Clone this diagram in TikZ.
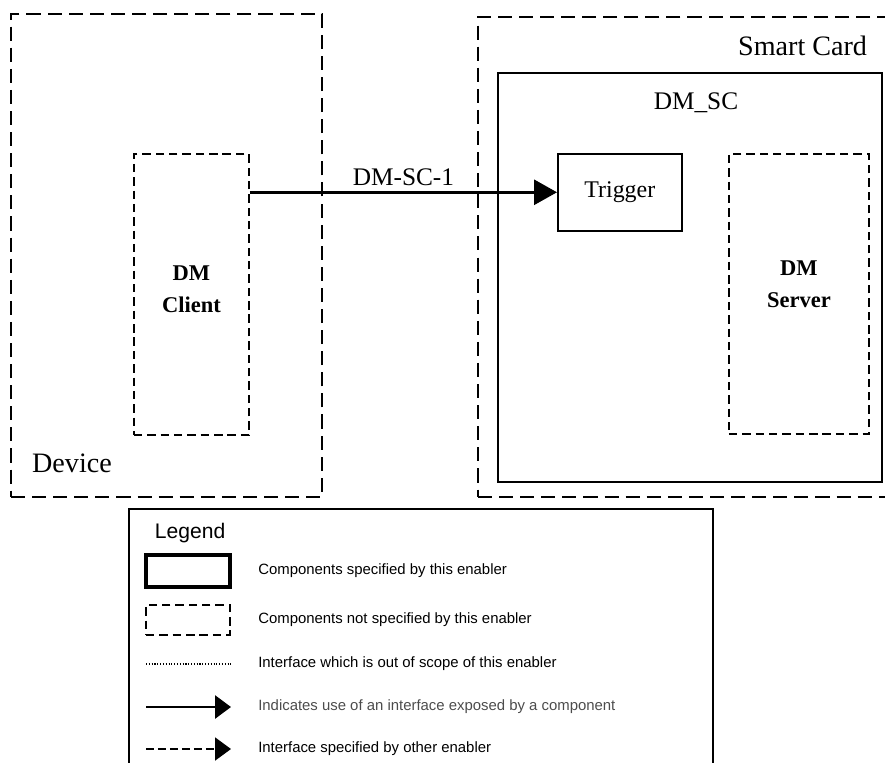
\documentclass[tikz,border=0pt]{standalone}
\usepackage{fontspec}
\setmainfont{Liberation Serif}
\setsansfont{Liberation Sans}
\usetikzlibrary{arrows.meta}

\begin{document}
\begin{tikzpicture}[
			x=0.025cm, y=-0.025cm,
			bigdash/.style={draw, line width=1.4pt, dash pattern=on 10pt off 5pt, inner sep=0pt, anchor=north west},
			smalldash/.style={draw, line width=1.3pt, dash pattern=on 6pt off 3.5pt, inner sep=0pt, anchor=north west, align=center, font=\fontsize{16}{23}\selectfont\bfseries},
			solidbox/.style={draw, line width=1.1pt, inner sep=0pt, anchor=north west},
			title/.style={font=\fontsize{20}{24}\selectfont},
			iface/.style={-{Triangle[length=0.575cm, width=0.625cm]}, line width=2.1pt},
			legtext/.style={anchor=west, inner sep=0pt, font=\sffamily\fontsize{10.6}{12}\selectfont},
			legarrow/.style={-{Triangle[length=0.4cm, width=0.575cm]}}
		]
		\useasboundingbox (0,0) rectangle (885,762);

		\node[bigdash, minimum width=7.775cm, minimum height=12.075cm] (device) at (10,13) {};
		\node[title] (devicelabel) at (72,463) {Device};
		\node[smalldash, minimum width=2.875cm, minimum height=7.025cm, text depth=0.25cm] (client) at (133,153) {DM\\Client};

		\node[bigdash, minimum width=10.5cm, minimum height=12cm] (card) at (477,16) {};
		\node[title, anchor=east] (cardlabel) at (872,46) {Smart Card};
		\node[solidbox, minimum width=9.6cm, minimum height=10.225cm] (dmsc) at (497,72) {};
		\node[font=\fontsize{18}{21}\selectfont] (dmsclabel) at (696,103) {DM\_SC};
		\node[solidbox, minimum width=3.1cm, minimum height=1.925cm, font=\fontsize{17}{20}\selectfont] (trigger) at (557,153) {Trigger};
		\node[smalldash, minimum width=3.5cm, minimum height=7cm, text depth=0.5cm] (server) at (728,153) {DM\\Server};

		\draw[iface] (client.east |- trigger.west) -- node[above, font=\fontsize{18}{21}\selectfont] (ifacelabel) {DM-SC-1} (trigger.west);

		\node[solidbox, minimum width=14.6cm, minimum height=7cm] (legend) at (128,508) {};
		\node[anchor=west, font=\sffamily\fontsize{15}{18}\selectfont] (legendlabel) at (150,533) {Legend};

		\node[draw, line width=2.8pt, minimum width=2.1cm, minimum height=0.78cm, inner sep=0pt] (legspec) at (188,571) {};
		\node[legtext] (legspectext) at (258,571) {Components specified by this enabler};
		\node[draw, line width=1.3pt, dash pattern=on 6pt off 3.5pt, minimum width=2.1cm, minimum height=0.75cm, inner sep=0pt] (legnot) at (188,620) {};
		\node[legtext] (legnottext) at (258,620) {Components not specified by this enabler};

		\coordinate (dotA) at (146,664);
		\coordinate (dotB) at (231,664);
		\draw[line width=0.8pt, dash pattern=on 0.8pt off 1.2pt] (dotA) -- (dotB);
		\node[legtext] (legdottext) at (258,664) {Interface which is out of scope of this enabler};

		\coordinate (arrA) at (146,707);
		\coordinate (arrB) at (231,707);
		\draw[legarrow, line width=2pt] (arrA) -- (arrB);
		\node[legtext, text=black!70] (legarrtext) at (258,707) {Indicates use of an interface exposed by a component};

		\coordinate (dasA) at (146,749);
		\coordinate (dasB) at (231,749);
		\draw[legarrow, line width=1.4pt, dash pattern=on 5.5pt off 3pt] (dasA) -- (dasB);
		\node[legtext] (legdastext) at (258,749) {Interface specified by other enabler};
	\end{tikzpicture}
\end{document}
